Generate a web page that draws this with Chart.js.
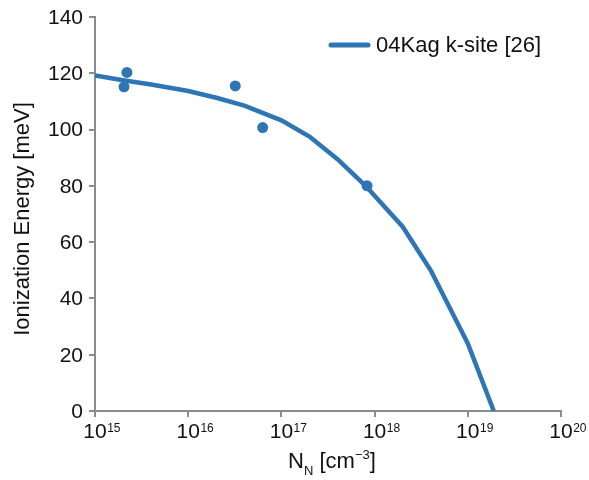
<!DOCTYPE html>
<html><head><meta charset="utf-8">
<script src="https://cdn.jsdelivr.net/npm/chart.js@4/dist/chart.umd.min.js"></script>
<style>html,body{margin:0;padding:0;background:#fff}#wrap{width:589px;height:480px}canvas{display:block}</style>
</head><body>
<div id="wrap"><canvas id="c" width="589" height="480"></canvas></div>
<script>
// ---- data ----
const curveX = [1e15, 2e15, 4e15, 1e16, 2e16, 4e16, 1e17, 2e17, 4e17, 8e17, 2e18, 4e18, 1e19, 1.9e19];
const curveY = [119.2, 117.5, 116, 113.7, 111.3, 108.5, 103.3, 97.5, 89.5, 80, 65.5, 50, 24, 0];
const measX = [2.2e15, 2.05e15, 3.2e16, 6.3e16, 8.3e17];
const measY = [120.3, 115.2, 115.5, 100.7, 80];
const xTickExponents = [15, 16, 17, 18, 19, 20];
const yTickValues = [0, 20, 40, 60, 80, 100, 120, 140];
const seriesName = '04Kag k-site [26]';
const yTitle = 'Ionization Energy [meV]';
const xTitleParts = ['N', 'N', ' [cm', '\u22123', ']']; // base, subscript, text, superscript, text

const BLUE = '#2e75b6';
const GRAY = '#8c8c8c';
const FONT = '"Liberation Sans", Arial, Helvetica, sans-serif';

const textPlugin = {
  id: 'texts',
  afterDraw(chart) {
    const ctx = chart.ctx;
    const xs = chart.scales.x, ys = chart.scales.y;
    ctx.save();
    ctx.fillStyle = '#111';
    // y tick labels
    ctx.font = '21px ' + FONT;
    ctx.textAlign = 'right';
    ctx.textBaseline = 'middle';
    yTickValues.forEach(v => ctx.fillText(String(v), xs.left - 12, ys.getPixelForValue(v) + 1));
    // x tick labels 10^n
    ctx.textBaseline = 'alphabetic';
    xTickExponents.forEach(e => {
      const px = xs.getPixelForValue(Math.pow(10, e));
      ctx.font = '21px ' + FONT;
      ctx.textAlign = 'center';
      ctx.fillText('10', px, ys.bottom + 27);
      const w = ctx.measureText('10').width;
      ctx.font = '12px ' + FONT;
      ctx.textAlign = 'left';
      ctx.fillText(String(e), px + w / 2 + 0.5, ys.bottom + 21);
    });
    // x title with subscript/superscript
    const big = '22px ' + FONT, small = '13px ' + FONT;
    const segs = [
      {t: xTitleParts[0], f: big, dy: 0},
      {t: xTitleParts[1], f: small, dy: 7},
      {t: xTitleParts[2], f: big, dy: 0},
      {t: xTitleParts[3], f: small, dy: -9},
      {t: xTitleParts[4], f: big, dy: 0}
    ];
    let total = 0;
    segs.forEach(s => { ctx.font = s.f; s.w = ctx.measureText(s.t).width; total += s.w; });
    let cx = (xs.left + xs.right) / 2 - total / 2 + 4;
    ctx.textAlign = 'left';
    segs.forEach(s => { ctx.font = s.f; ctx.fillText(s.t, cx, 468 + s.dy); cx += s.w; });
    // y title
    ctx.save();
    ctx.translate(29, (ys.top + ys.bottom) / 2 + 5);
    ctx.rotate(-Math.PI / 2);
    ctx.font = '22px ' + FONT;
    ctx.textAlign = 'center';
    ctx.textBaseline = 'alphabetic';
    ctx.fillText(yTitle, 0, 0);
    ctx.restore();
    // legend
    ctx.strokeStyle = BLUE;
    ctx.lineWidth = 5;
    ctx.lineCap = 'round';
    ctx.beginPath();
    ctx.moveTo(331, 45);
    ctx.lineTo(368, 45);
    ctx.stroke();
    ctx.font = '22px ' + FONT;
    ctx.textAlign = 'left';
    ctx.textBaseline = 'middle';
    ctx.fillText(seriesName, 376, 46);
    ctx.restore();
  }
};

new Chart(document.getElementById('c'), {
  type: 'scatter',
  data: {
    datasets: [
      {
        label: seriesName,
        type: 'line',
        data: curveX.map((x, i) => ({x, y: curveY[i]})),
        borderColor: BLUE,
        backgroundColor: BLUE,
        borderWidth: 4.5,
        pointRadius: 0,
        tension: 0,
        fill: false,
        order: 1
      },
      {
        label: 'measured',
        data: measX.map((x, i) => ({x, y: measY[i]})),
        backgroundColor: BLUE,
        borderColor: BLUE,
        pointRadius: 5.5,
        borderWidth: 0,
        order: 0
      }
    ]
  },
  options: {
    responsive: false,
    animation: false,
    devicePixelRatio: 1,
    layout: {padding: {left: 89, right: 28, top: 17, bottom: 63}},
    plugins: {legend: {display: false}, tooltip: {enabled: false}},
    scales: {
      x: {
        type: 'logarithmic',
        min: 1e15, max: 1e20,
        afterBuildTicks: s => { s.ticks = xTickExponents.map(e => ({value: Math.pow(10, e)})); },
        ticks: {display: false},
        grid: {drawOnChartArea: false, drawTicks: true, tickLength: 6, color: GRAY, lineWidth: 2},
        border: {color: GRAY, width: 2}
      },
      y: {
        min: 0, max: 140,
        afterBuildTicks: s => { s.ticks = yTickValues.map(v => ({value: v})); },
        ticks: {display: false},
        grid: {drawOnChartArea: false, drawTicks: true, tickLength: 6, color: GRAY, lineWidth: 2},
        border: {color: GRAY, width: 2}
      }
    }
  },
  plugins: [textPlugin]
});
</script>
</body></html>
